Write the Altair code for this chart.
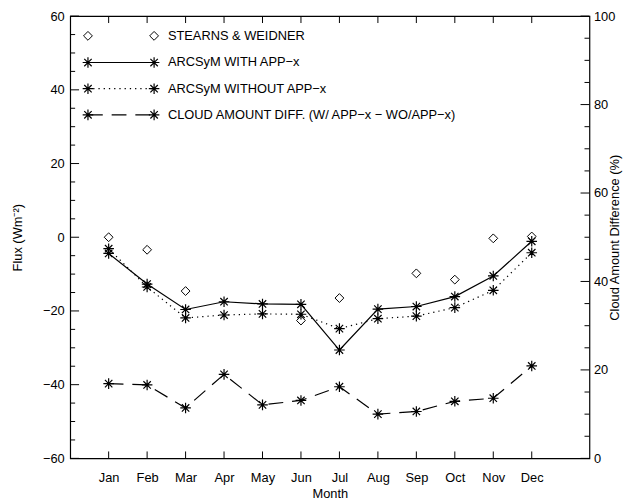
import altair as alt
import pandas as pd

# ---------------- data ----------------
months = ["Jan", "Feb", "Mar", "Apr", "May", "Jun", "Jul", "Aug", "Sep", "Oct", "Nov", "Dec"]
month_num = list(range(1, 13))
stearns_weidner = [0.0, -3.4, -14.6, None, None, -22.6, -16.5, None, -9.8, -11.5, -0.3, 0.2]
arcsym_with = [-4.4, -12.7, -19.6, -17.5, -18.1, -18.2, -30.6, -19.5, -18.8, -16.1, -10.5, -1.1]
arcsym_without = [-3.1, -13.5, -21.9, -21.1, -20.8, -20.9, -24.8, -22.1, -21.4, -19.1, -14.4, -4.2]
cloud_diff = [16.9, 16.6, 11.4, 19.0, 12.1, 13.1, 16.2, 10.0, 10.6, 12.9, 13.6, 20.9]

legend_labels = [
    "STEARNS & WEIDNER",
    "ARCSyM WITH APP\u2212x",
    "ARCSyM WITHOUT APP\u2212x",
    "CLOUD AMOUNT DIFF. (W/ APP\u2212x \u2212 WO/APP\u2212x)",
]

flux_ticks = list(range(-60, 61, 5))
cloud_ticks = list(range(0, 101, 5))

# ---------------- layout / style ----------------
W, H = 526, 448
FONT = "Liberation Sans"
FS = 13
ASTER = "M-1,0L1,0M0,-1L0,1M-0.7,-0.7L0.7,0.7M-0.7,0.7L0.7,-0.7"
AST_SIZE = 115
DIA_SIZE = 80
LW = 1.2
DOT = [1.3, 4]
DASH = [15, 9]

df = pd.DataFrame({
    "m": month_num,
    "month": months,
    "sw": stearns_weidner,
    "with_app": arcsym_with,
    "without_app": arcsym_without,
    "cloud": cloud_diff,
})

xscale = alt.Scale(domain=[0, 13.5], nice=False, zero=False)
flux_scale = alt.Scale(domain=[-60, 60], nice=False, zero=False)
cloud_scale = alt.Scale(domain=[0, 100], nice=False, zero=False)

month_expr = "[" + ",".join("'" + m + "'" for m in months) + "][datum.value - 1]"

x_axis = alt.Axis(
    values=month_num, labelExpr=month_expr, ticks=False, tickSize=0, domain=False,
    grid=False, labelPadding=13, title="Month", titleY=36, titleBaseline="middle",
)
left_axis = alt.Axis(
    orient="left", values=list(range(-60, 61, 20)), ticks=False, tickSize=0, domain=False, grid=False,
    labelPadding=6, title="Flux (Wm\u207b\u00b2)", titleX=-53, titleY=H / 2,
    titleAngle=270, titleAlign="center", titleBaseline="middle",
)
right_axis = alt.Axis(
    orient="right", values=list(range(0, 101, 20)), ticks=False, tickSize=0, domain=False,
    grid=False, labelPadding=4, title="Cloud Amount Difference (%)", titleX=25,
    titleY=H / 2, titleAngle=270, titleAlign="center", titleBaseline="middle",
)

base = alt.Chart(df)
X = alt.X("m:Q", scale=xscale, axis=x_axis)


def YF(field):
    return alt.Y(field, type="quantitative", scale=flux_scale, axis=left_axis)


def YC(field):
    return alt.Y(field, type="quantitative", scale=cloud_scale, axis=right_axis)


def aster(chart):
    return chart.mark_point(shape=ASTER, size=AST_SIZE, color="black", strokeWidth=LW, filled=False, opacity=1)


# ----- flux layers -----
line_with = base.mark_line(color="black", strokeWidth=LW).encode(x=X, y=YF("with_app"))
pts_with = aster(base).encode(x=X, y=YF("with_app"))
line_without = base.mark_line(color="black", strokeWidth=LW, strokeDash=DOT).encode(x=X, y=YF("without_app"))
pts_without = aster(base).encode(x=X, y=YF("without_app"))
pts_sw = base.mark_point(shape="diamond", size=DIA_SIZE, color="black", strokeWidth=1, filled=False, opacity=1).encode(
    x=X, y=YF("sw"))

ft = pd.DataFrame({"t": flux_ticks})
ft["major"] = ft["t"] % 20 == 0
lt_major = alt.Chart(ft).transform_filter("datum.major").mark_rule(color="black", strokeWidth=1).encode(
    y=YF("t"), x=alt.value(0), x2=alt.value(9))
lt_minor = alt.Chart(ft).transform_filter("!datum.major").mark_rule(color="black", strokeWidth=1).encode(
    y=YF("t"), x=alt.value(0), x2=alt.value(5))

bt = base.mark_rule(color="black", strokeWidth=1).encode(x=X, y=alt.value(H), y2=alt.value(H - 7))
tt = base.mark_rule(color="black", strokeWidth=1).encode(x=X, y=alt.value(0), y2=alt.value(7))

# ----- legend -----
leg_df = pd.DataFrame({"label": legend_labels})
LX1, LX2, LTX = 18, 85, 99
rows_y = [20, 47, 73.5, 100]
legend_layers = []
dashes = [None, None, DOT, DASH]
for i, lab in enumerate(legend_labels):
    one = alt.Chart(leg_df.iloc[[i]])
    yv = rows_y[i]
    legend_layers.append(one.mark_text(align="left", baseline="middle", font=FONT, fontSize=FS, color="black").encode(
        text="label:N", x=alt.value(LTX), y=alt.value(yv)))
    if i == 0:
        for xv in (LX1, LX2):
            legend_layers.append(one.mark_point(shape="diamond", size=DIA_SIZE, color="black", strokeWidth=1, filled=False, opacity=1).encode(
                x=alt.value(xv), y=alt.value(yv)))
    else:
        kw = {"strokeDash": dashes[i]} if dashes[i] else {}
        legend_layers.append(one.mark_rule(color="black", strokeWidth=LW, **kw).encode(
            x=alt.value(LX1), x2=alt.value(LX2), y=alt.value(yv)))
        for xv in (LX1, LX2):
            legend_layers.append(aster(one).encode(x=alt.value(xv), y=alt.value(yv)))

flux_layer = alt.layer(line_with, pts_with, line_without, pts_without, pts_sw, lt_major, lt_minor, bt, tt, *legend_layers)

# ----- cloud layers -----
line_cloud = base.mark_line(color="black", strokeWidth=LW, strokeDash=DASH).encode(x=X, y=YC("cloud"))
pts_cloud = aster(base).encode(x=X, y=YC("cloud"))
ct = pd.DataFrame({"c": cloud_ticks})
ct["major"] = ct["c"] % 20 == 0
rt_major = alt.Chart(ct).transform_filter("datum.major").mark_rule(color="black", strokeWidth=1).encode(
    y=YC("c"), x=alt.value(W), x2=alt.value(W - 9))
rt_minor = alt.Chart(ct).transform_filter("!datum.major").mark_rule(color="black", strokeWidth=1).encode(
    y=YC("c"), x=alt.value(W), x2=alt.value(W - 5))

cloud_layer = alt.layer(line_cloud, pts_cloud, rt_major, rt_minor)

chart = (
    alt.layer(flux_layer, cloud_layer)
    .resolve_scale(y="independent")
    .properties(
        width=W, height=H,
        padding={"left": 63, "top": 5, "right": 34, "bottom": 43},
        autosize=alt.AutoSizeParams(type="none"),
        background="white",
    )
    .configure_view(stroke="black", strokeWidth=1.2)
    .configure_axis(
        labelFont=FONT, labelFontSize=FS, labelColor="black",
        titleFont=FONT, titleFontSize=FS, titleFontWeight="normal", titleColor="black",
    )
)

chart.save("out.html", embed_options={"renderer": "svg", "actions": False})
